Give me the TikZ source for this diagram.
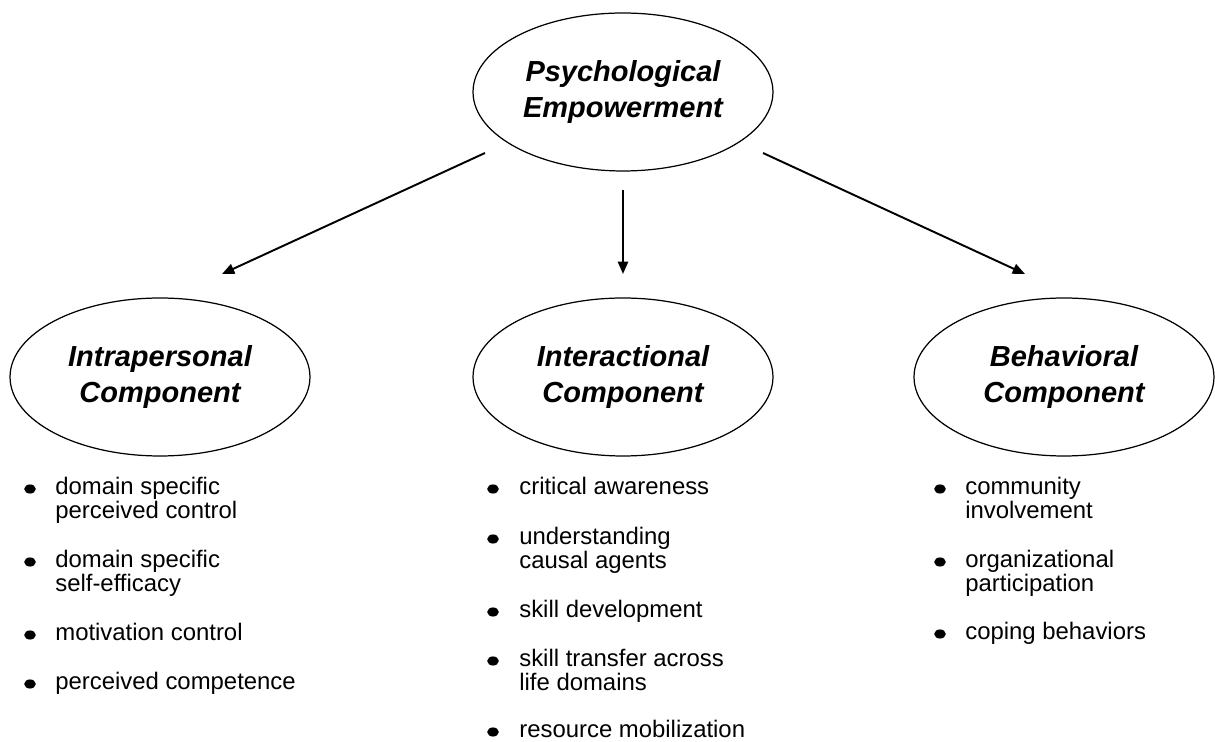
\documentclass[tikz,border=0pt]{standalone}
\usepackage{fontspec}
\setmainfont{Liberation Sans}
\usetikzlibrary{arrows.meta,positioning,shapes.geometric}

\begin{document}
\begin{tikzpicture}[x=0.02cm, y=-0.02cm, >={Triangle[length=7pt,width=5.8pt]},
  comp/.style={draw, ellipse, line width=0.7pt, minimum width=6cm, minimum height=3.16cm,
    inner sep=0pt, align=center, font=\fontsize{16.5}{20}\selectfont\bfseries\itshape},
  dot/.style={ellipse, fill, minimum width=6.6pt, minimum height=5.2pt, inner sep=0pt},
  item/.style={anchor=base west, align=left, inner sep=0pt, font=\fontsize{13.6}{13.7}\selectfont},
  arr/.style={->, line width=1.1pt}]
\useasboundingbox (0,0) rectangle (1215,742);

% the four ellipses
\node[comp] (pe) at (623,92) {Psychological\\Empowerment};
\node[comp] (intra) at (160,377) {Intrapersonal\\Component};
\node[comp] (inter) at (623,377) {Interactional\\Component};
\node[comp] (behav) at (1064,377) {Behavioral\\Component};

% arrows
\coordinate (pe-l) at (485,153);
\coordinate (pe-m) at (623,190);
\coordinate (pe-r) at (763,153);
\coordinate (intra-t) at (222,274);
\coordinate (inter-t) at (623,274);
\coordinate (behav-t) at (1025,274);
\draw[arr] (pe-l) -- (intra-t);
\draw[arr] (pe-m) -- (inter-t);
\draw[arr] (pe-r) -- (behav-t);

% intrapersonal list (base = last line)
\node[dot] (lb1) at (30,489) {};
\node[item] (l1) at (55,519) {domain specific\\perceived control};
\node[dot] (lb2) at (30,562) {};
\node[item] (l2) at (55,592) {domain specific\\self-efficacy};
\node[dot] (lb3) at (30,635) {};
\node[item] (l3) at (55,641) {motivation control};
\node[dot] (lb4) at (30,684) {};
\node[item] (l4) at (55,690) {perceived competence};

% interactional list
\node[dot] (mb1) at (493,489) {};
\node[item] (m1) at (519,495) {critical awareness};
\node[dot] (mb2) at (493,539) {};
\node[item] (m2) at (519,569) {understanding\\causal agents};
\node[dot] (mb3) at (493,612) {};
\node[item] (m3) at (519,618) {skill development};
\node[dot] (mb4) at (493,661) {};
\node[item] (m4) at (519,691) {skill transfer across\\life domains};
\node[dot] (mb5) at (493,732) {};
\node[item] (m5) at (519,738) {resource mobilization};

% behavioral list
\node[dot] (rb1) at (940,489) {};
\node[item] (r1) at (965,519) {community\\involvement};
\node[dot] (rb2) at (940,562) {};
\node[item] (r2) at (965,592) {organizational\\participation};
\node[dot] (rb3) at (940,634) {};
\node[item] (r3) at (965,640) {coping behaviors};
\end{tikzpicture}
\end{document}
